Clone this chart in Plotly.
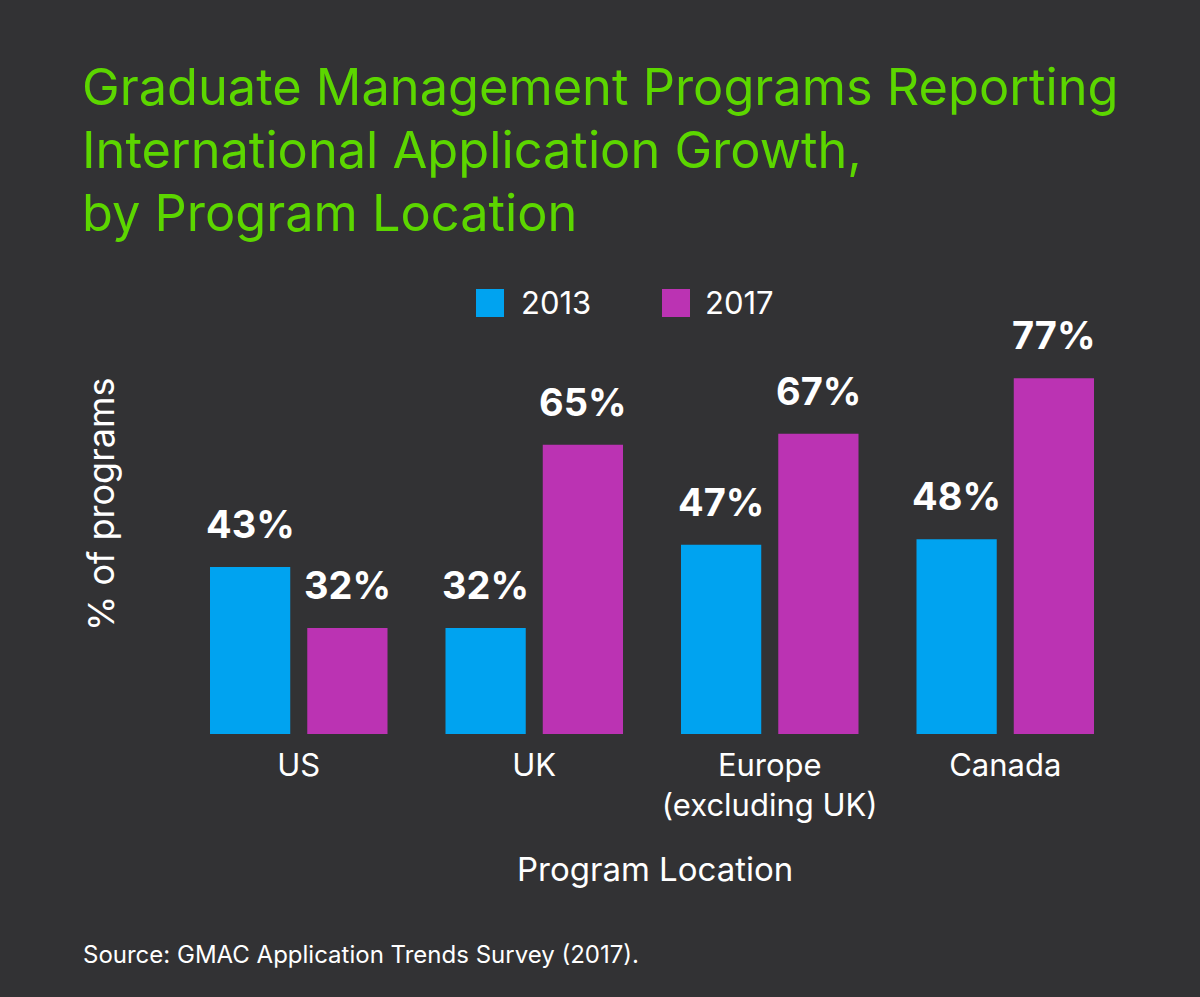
import plotly.graph_objs as go

# values
locations = ['US', 'UK', 'Europe<br>(excluding UK)', 'Canada']
years = ['2013', '2017']
pct_2013 = [43, 32, 47, 48]
pct_2017 = [32, 65, 67, 77]

BG = '#323234'
GREEN = '#5cd600'
BLUE = '#00a3f0'
MAGENTA = '#bb33b3'
FONT = 'Inter'

W, H = 1200, 997
M = dict(l=181, r=77, t=306, b=263)


def px_x(x):
    """pixel x -> paper x"""
    return (x - M['l']) / (W - M['l'] - M['r'])


def px_y(y):
    """pixel y (from top) -> paper y"""
    return (H - M['b'] - y) / (H - M['t'] - M['b'])


def plot():
    colors = [BLUE, MAGENTA]
    series = [pct_2013, pct_2017]
    traces = []
    for year, vals, col in zip(years, series, colors):
        traces.append(
            go.Bar(
                x=locations,
                y=vals,
                name=year,
                marker=dict(color=col, line=dict(width=0)),
                hoverinfo='skip',
            )
        )

    annotations = []

    # value labels above each bar
    for i_yr, vals in enumerate(series):
        for loc, v in zip(locations, vals):
            annotations.append(dict(
                text='{}%'.format(v), x=loc, y=v, xref='x', yref='y',
                xshift=(-48.5, 48.5)[i_yr], yshift=18,
                xanchor='center', yanchor='bottom', showarrow=False,
                font=dict(family=FONT, size=38, color='white', weight='bold'),
            ))

    title_lines = [
        'Graduate Management Programs Reporting',
        'International Application Growth,',
        'by Program Location',
    ]
    for i, line in enumerate(title_lines):
        annotations.append(dict(
            text=line, xref='paper', yref='paper',
            x=px_x(80), y=px_y(102 + 63 * i), xanchor='left', yanchor='bottom',
            yshift=-17, showarrow=False,
            font=dict(family=FONT, size=50.5, color=GREEN),
        ))

    # legend
    shapes = []
    for year, col, x0, xt in zip(years, colors, [476, 662], [519, 703]):
        shapes.append(dict(
            type='rect', xref='paper', yref='paper',
            x0=px_x(x0), x1=px_x(x0 + 28), y0=px_y(317), y1=px_y(289),
            fillcolor=col, line=dict(width=0),
        ))
        annotations.append(dict(
            text=year, xref='paper', yref='paper',
            x=px_x(xt), y=px_y(302), xanchor='left', yanchor='middle',
            showarrow=False, font=dict(family=FONT, size=31, color='white'),
        ))

    annotations.append(dict(
        text='% of programs', xref='paper', yref='paper',
        x=px_x(101), y=px_y(505), textangle=-90,
        xanchor='center', yanchor='middle', showarrow=False,
        font=dict(family=FONT, size=36, color='white'),
    ))
    annotations.append(dict(
        text='Program Location', xref='paper', yref='paper',
        x=px_x(655), y=px_y(869), xanchor='center', yanchor='middle',
        showarrow=False, font=dict(family=FONT, size=33, color='white'),
    ))
    annotations.append(dict(
        text='Source: GMAC Application Trends Survey (2017).',
        xref='paper', yref='paper',
        x=px_x(81), y=px_y(955), xanchor='left', yanchor='middle',
        showarrow=False, font=dict(family=FONT, size=24, color='white'),
    ))

    fig = go.Figure(
        data=traces,
        layout=go.Layout(
            width=W,
            height=H,
            margin=M,
            paper_bgcolor=BG,
            plot_bgcolor=BG,
            showlegend=False,
            barmode='group',
            bargap=0.174,
            bargroupgap=0.175,
            font=dict(family=FONT, color='white'),
            xaxis=dict(
                showgrid=False,
                zeroline=False,
                showline=False,
                ticks='',
                tickfont=dict(family=FONT, size=31, color='white'),
                ticklabelstandoff=10,
                fixedrange=True,
            ),
            yaxis=dict(
                range=[12.9, 90],
                showgrid=False,
                zeroline=False,
                showline=False,
                showticklabels=False,
                fixedrange=True,
            ),
            annotations=annotations,
            shapes=shapes,
        ),
    )
    return fig


fig = plot()
fig.write_html(
    'out.html',
    config=dict(displayModeBar=False),
    post_script="document.body.style.margin='0';",
)
